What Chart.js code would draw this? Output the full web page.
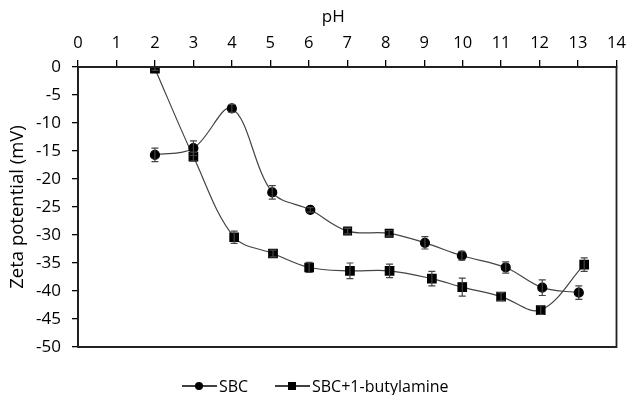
<!DOCTYPE html>
<html><head><meta charset="utf-8">
<script src="https://cdn.jsdelivr.net/npm/chart.js@4"></script>
<style>html,body{margin:0;padding:0;background:#fff}#wrap{width:627px;height:395px}</style>
</head><body><div id="wrap"><canvas id="c" width="627" height="395"></canvas></div>
<script>
const seriesNames = ["SBC", "SBC+1-butylamine"];
const phSBC = [2.0, 3.0, 4.0, 5.05, 6.04, 7.01, 8.09, 9.02, 9.98, 11.12, 12.07, 13.02];
const zetaSBC = [-15.7, -14.5, -7.4, -22.4, -25.5, -29.3, -29.7, -31.4, -33.7, -35.8, -39.4, -40.3];
const errSBC = [1.2, 1.3, 0.7, 1.2, 0.4, 0.5, 0.5, 1.1, 0.8, 1.0, 1.4, 1.2];
const phBut = [2.0, 3.0, 4.06, 5.07, 6.01, 7.07, 8.1, 9.2, 9.99, 11.0, 12.03, 13.16];
const zetaBut = [-0.3, -16.0, -30.4, -33.3, -35.8, -36.4, -36.4, -37.8, -39.3, -41.0, -43.4, -35.3];
const errBut = [0.3, 0.8, 1.1, 0.6, 0.9, 1.4, 1.2, 1.3, 1.6, 0.7, 0.8, 1.2];
const xTitle = "pH";
const yTitle = "Zeta potential (mV)";

const FONT = "'Open Sans', 'Liberation Sans', sans-serif";
const LINE = '#444';

const errorBars = {
  id: 'errorBars',
  afterDatasetsDraw(chart){
    const ctx = chart.ctx, xs = chart.scales.x, ys = chart.scales.y;
    ctx.save();
    ctx.strokeStyle = LINE; ctx.lineWidth = 1.2;
    chart.data.datasets.forEach(ds => {
      ds.data.forEach((p, i) => {
        const e = ds.errors[i];
        const x = xs.getPixelForValue(p.x);
        const y1 = ys.getPixelForValue(p.y + e), y2 = ys.getPixelForValue(p.y - e);
        ctx.beginPath();
        ctx.moveTo(x, y1); ctx.lineTo(x, y2);
        ctx.moveTo(x-3.5, y1); ctx.lineTo(x+3.5, y1);
        ctx.moveTo(x-3.5, y2); ctx.lineTo(x+3.5, y2);
        ctx.stroke();
      });
    });
    ctx.restore();
  }
};
const frame = {
  id: 'frame',
  afterDraw(chart){
    const a = chart.chartArea, ctx = chart.ctx;
    ctx.save();
    ctx.strokeStyle = '#222'; ctx.lineWidth = 1.8;
    ctx.beginPath();
    ctx.moveTo(a.left, a.top); ctx.lineTo(a.right, a.top); ctx.lineTo(a.right, a.bottom); ctx.lineTo(a.left, a.bottom); ctx.closePath();
    ctx.stroke();
    ctx.restore();
  }
};
// x-axis title, placed slightly left of the plot centre as in the original
const xTitlePlugin = {
  id: 'xTitlePlugin',
  afterDraw(chart){
    const ctx = chart.ctx, a = chart.chartArea;
    ctx.save();
    ctx.font = "17px " + FONT;
    ctx.fillStyle = '#000';
    ctx.textAlign = 'center'; ctx.textBaseline = 'middle';
    ctx.fillText(xTitle, (a.left + a.right) / 2 - 14, 17);
    ctx.restore();
  }
};
// legend: line + marker icon followed by series name
const customLegend = {
  id: 'customLegend',
  afterDraw(chart){
    const ctx = chart.ctx;
    const y = 386;
    const starts = [182, 275];
    ctx.save();
    ctx.font = "16px " + FONT;
    ctx.textBaseline = 'middle';
    ctx.fillStyle = '#000';
    chart.data.datasets.forEach((ds, i) => {
      const x0 = starts[i];
      ctx.strokeStyle = '#000'; ctx.lineWidth = 1.3;
      ctx.beginPath(); ctx.moveTo(x0, y); ctx.lineTo(x0 + 35, y); ctx.stroke();
      if (i === 0) { ctx.beginPath(); ctx.arc(x0 + 17, y, 4, 0, Math.PI*2); ctx.fill(); }
      else { ctx.fillRect(x0 + 13, y - 4, 8, 8); }
      ctx.fillText(ds.label, x0 + 37, y + 1);
    });
    ctx.restore();
  }
};

new Chart(document.getElementById('c'), {
  type: 'line',
  data: {
    datasets: [
      { label: seriesNames[0], data: phSBC.map((x,i)=>({x, y: zetaSBC[i]})), errors: errSBC,
        borderColor: LINE, borderWidth: 1.2, backgroundColor: '#000', pointBackgroundColor: '#000', pointBorderColor: '#000',
        pointStyle: ['circle','circle','circle','circle','circle','rect','rect','circle','circle','circle','circle','circle'],
        pointRadius: [4.5,4.5,4.5,4.5,4.5,5.5,5.5,4.5,4.5,4.5,4.5,4.5], tension: 0.35, fill: false },
      { label: seriesNames[1], data: phBut.map((x,i)=>({x, y: zetaBut[i]})), errors: errBut,
        borderColor: LINE, borderWidth: 1.2, backgroundColor: '#000', pointBackgroundColor: '#000', pointBorderColor: '#000',
        pointStyle: 'rect', pointRadius: 6, tension: 0.35, fill: false }
    ]
  },
  options: {
    responsive: false, animation: false, devicePixelRatio: 1,
    layout: { padding: { left: 0, right: 10.5, top: 0, bottom: 48 } },
    plugins: { tooltip: { enabled: false }, legend: { display: false } },
    scales: {
      x: {
        type: 'linear', position: 'top', min: 0, max: 14,
        ticks: { stepSize: 1, color: '#000', font: { family: FONT, size: 16.5 }, padding: 7 },
        grid: { drawOnChartArea: false, drawTicks: true, tickLength: 7, color: '#000', lineWidth: 1.3 },
        border: { color: '#000', width: 1.8 },
        title: { display: false },
        afterFit(s){ s.height = 67; s.paddingLeft = 0; s.paddingRight = 0; }
      },
      y: {
        type: 'linear', min: -50, max: 0,
        ticks: { stepSize: 5, color: '#000', font: { family: FONT, size: 17 }, padding: 11 },
        grid: { drawOnChartArea: false, drawTicks: true, tickLength: 6, color: '#000', lineWidth: 1.3 },
        border: { color: '#000', width: 1.8 },
        title: { display: true, text: yTitle, color: '#000', font: { family: FONT, size: 18.5 }, padding: { top: 7, bottom: 0 } },
        afterFit(s){ s.width = 78; }
      }
    }
  },
  plugins: [errorBars, frame, xTitlePlugin, customLegend]
});
</script></body></html>
